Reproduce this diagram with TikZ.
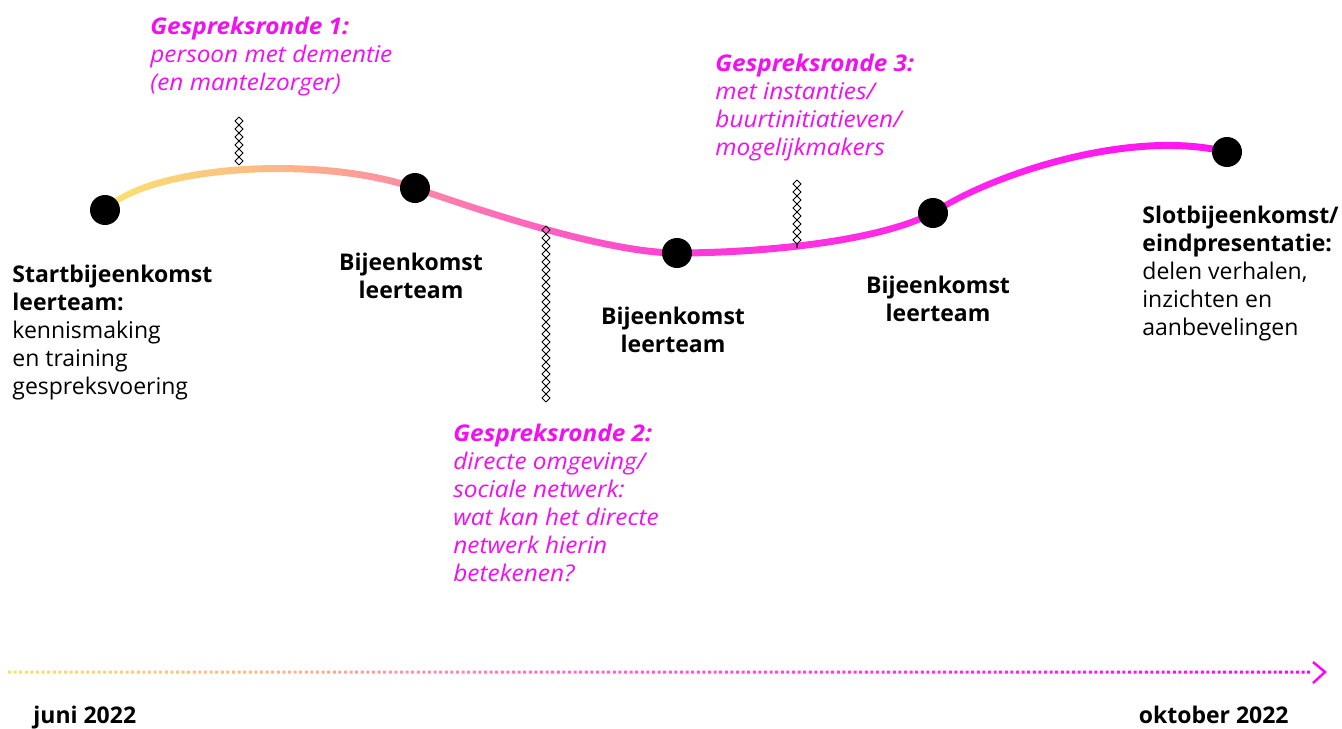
\documentclass[tikz,border=0pt]{standalone}
\usepackage{fontspec}
\setmainfont{Open Sans}[ItalicFeatures={FakeStretch=1.06},BoldItalicFeatures={FakeStretch=1.06}]
\usepackage{tikz}
\usetikzlibrary{decorations.pathmorphing,positioning}

\definecolor{wA}{HTML}{F8E36E}
\definecolor{wB}{HTML}{FDB18A}
\definecolor{wC}{HTML}{FF73B5}
\definecolor{wD}{HTML}{FF3AD8}
\definecolor{wE}{HTML}{FF22EE}
\definecolor{wF}{HTML}{FF14F2}
\definecolor{tA}{HTML}{FAE060}
\definecolor{tB}{HTML}{FDB18A}
\definecolor{tC}{HTML}{FF70C0}
\definecolor{tD}{HTML}{FF20EE}
\definecolor{tE}{HTML}{FF00FF}
\definecolor{ronde}{HTML}{F010F0}

\pgfdeclarehorizontalshading{waveshade}{100bp}{color(0bp)=(wA); color(25bp)=(wA);
  color(33.7bp)=(wB); color(41.7bp)=(wC); color(51.5bp)=(wD); color(64.9bp)=(wE);
  color(75bp)=(wF); color(100bp)=(wF)}
\pgfdeclarehorizontalshading{lineshade}{100bp}{color(0bp)=(tA); color(25bp)=(tA);
  color(36.1bp)=(tB); color(44.8bp)=(tC); color(62.7bp)=(tD); color(75bp)=(tE);
  color(100bp)=(tE)}

\newcommand{\wave}[1]{(105,{210+#1}) .. controls (150,{165+#1}) and (320,{155+#1}) ..
  (415,{188+#1}) .. controls (490,{214+#1}) and (610,{253+#1}) ..
  (677,{253+#1}) .. controls (744,{253+#1}) and (870,{245+#1}) ..
  (933,{213+#1}) .. controls (990,{175+#1}) and (1130,{128+#1}) ..
  (1227,{152+#1})}
\newcommand{\waveback}[1]{(1227,{152+#1}) .. controls (1130,{128+#1}) and (990,{175+#1}) ..
  (933,{213+#1}) .. controls (870,{245+#1}) and (744,{253+#1}) ..
  (677,{253+#1}) .. controls (610,{253+#1}) and (490,{214+#1}) ..
  (415,{188+#1}) .. controls (320,{155+#1}) and (150,{165+#1}) ..
  (105,{210+#1})}

\tikzset{
  meet/.style={circle,fill=black,minimum size=15pt,inner sep=0pt},
  txt/.style={font=\fontsize{11.5}{14}\selectfont,inner sep=0pt,align=left,anchor=north west},
  ctxt/.style={txt,align=center,anchor=north},
  rtxt/.style={txt,text=ronde},
  zig/.style={line width=0.5pt,decorate,decoration={zigzag,amplitude=2pt,segment length=8pt}},
  zag/.style={zig,decoration={mirror}}
}

\begin{document}
\begin{tikzpicture}[x=0.5pt,y=-0.5pt]
  \useasboundingbox (0,0) rectangle (1342,728);

  % curve
  \shade[shading=waveshade] \wave{-3.5} -- \waveback{3.5} -- cycle;

  \node[meet] (M1) at (105,210) {};
  \node[meet] (M2) at (415,188) {};
  \node[meet] (M3) at (677,253) {};
  \node[meet] (M4) at (933,213) {};
  \node[meet] (M5) at (1227,152) {};

  % gespreksrondes
  \coordinate (G1a) at (239,117); \coordinate (G1b) at (239,165);
  \coordinate (G2a) at (546,226); \coordinate (G2b) at (546,402);
  \coordinate (G3a) at (797,180); \coordinate (G3b) at (797,248);
  \foreach \a/\b in {G1a/G1b,G2a/G2b,G3a/G3b} {
    \draw[zig] (\a) -- (\b);
    \draw[zag] (\a) -- (\b);
  }

  \node[txt] (T1) at (12,265) {\textbf{Startbijeenkomst}\\\textbf{leerteam:}\\kennismaking\\en training\\gespreksvoering};
  \node[ctxt] (T2) at (411,253) {\textbf{Bijeenkomst}\\\textbf{leerteam}};
  \node[ctxt] (T3) at (673,307) {\textbf{Bijeenkomst}\\\textbf{leerteam}};
  \node[ctxt] (T4) at (938,276) {\textbf{Bijeenkomst}\\\textbf{leerteam}};
  \node[txt] (T5) at (1142,206) {\textbf{Slotbijeenkomst/}\\\textbf{eindpresentatie:}\\delen verhalen,\\inzichten en\\aanbevelingen};

  \node[rtxt] (R1) at (150,17) {\textit{\textbf{Gespreksronde 1:}}\\\textit{persoon met dementie}\\\textit{(en mantelzorger)}};
  \node[rtxt] (R2) at (453,424) {\textit{\textbf{Gespreksronde 2:}}\\\textit{directe omgeving/}\\\textit{sociale netwerk:}\\\textit{wat kan het directe}\\\textit{netwerk hierin}\\\textit{betekenen?}};
  \node[rtxt] (R3) at (715,54) {\textit{\textbf{Gespreksronde 3:}}\\\textit{met instanties/}\\\textit{buurtinitiatieven/}\\\textit{mogelijkmakers}};

  % tijdlijn
  \coordinate (L0) at (8,672);
  \coordinate (L1) at (1325,672);
  \begin{scope}
    \clip \foreach \x in {8,13.6,...,1312} {(\x,670.5) rectangle ++(3,3)};
    \shade[shading=lineshade] ([yshift=-8pt]L0) rectangle ([yshift=8pt]L1);
  \end{scope}
  \draw[tE,line width=1.2pt,line join=miter] ([xshift=-6pt,yshift=5pt]L1) -- (L1) -- ([xshift=-6pt,yshift=-5.5pt]L1);

  \node[txt] (D0) at (33,706) {\textbf{juni 2022}};
  \node[txt,anchor=north east] (D1) at (1289,706) {\textbf{oktober 2022}};
\end{tikzpicture}
\end{document}
